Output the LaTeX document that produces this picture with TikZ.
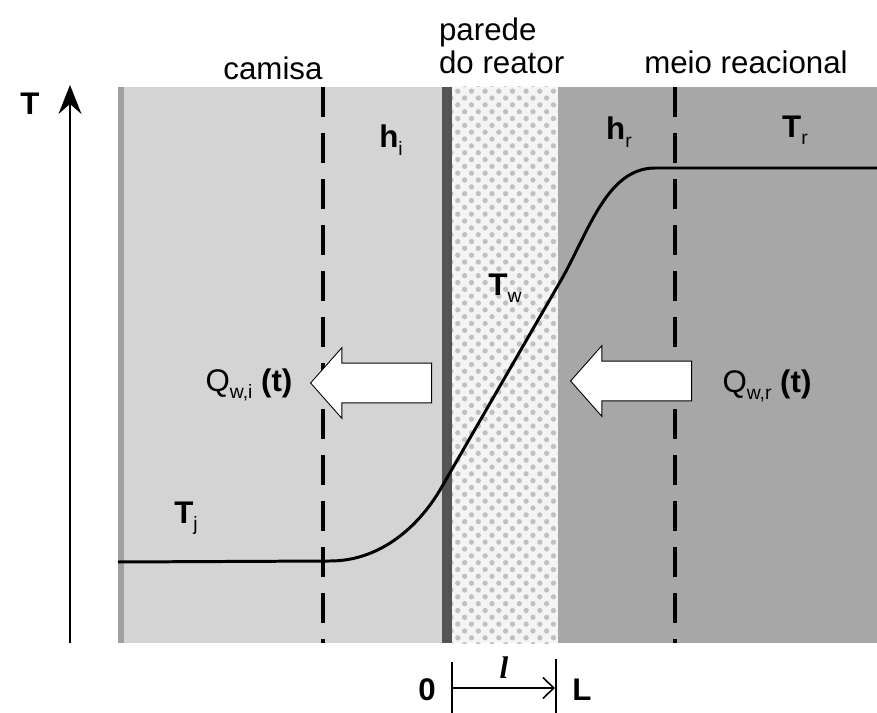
\documentclass[tikz,border=0pt]{standalone}
\usepackage{fontspec}
\setmainfont{Liberation Sans}
\newfontfamily\serifit{Liberation Serif}
\usepackage{tikz}
\usetikzlibrary{arrows.meta,shapes.arrows,patterns.meta}
\definecolor{jacketgray}{HTML}{D4D4D4}
\definecolor{jacketedge}{HTML}{A0A0A0}
\definecolor{walledge}{HTML}{545454}
\definecolor{wallbase}{HTML}{F4F4F4}
\definecolor{walldots}{HTML}{C0C0C0}
\definecolor{reactorgray}{HTML}{A7A7A7}
\newcommand{\idx}[1]{\raisebox{-0.45ex}{\fontsize{11}{12}\selectfont\mdseries #1}}

\begin{document}
\begin{tikzpicture}[
        x=0.02cm,y=-0.02cm,
        >=Stealth,
        lbl/.style={font=\fontsize{17.8}{18.5}\selectfont,inner sep=1pt},
        sym/.style={font=\fontsize{17.8}{18.5}\selectfont\bfseries,inner sep=1pt},
        heatflow/.style={single arrow,draw=black,fill=white,line width=0.5pt,
                         shape border rotate=180,inner xsep=0pt,inner ysep=0.39cm,
                         minimum height=2.42cm,
                         single arrow head extend=0.31cm,single arrow tip angle=97},
        border/.style={line width=1.8pt,dash pattern=on 0.6cm off 0.32cm},
        every node/.style={align=center}
      ]
        \useasboundingbox (0,0) rectangle (877,713);
        % regions
        \fill[jacketgray] (118,87) rectangle (442,643);
        \fill[jacketedge] (118,87) rectangle (124,643);
        \fill[wallbase] (452,87) rectangle (558,643);
        \fill[pattern={Dots[distance=5.5pt,radius=1.5pt,angle=45]},pattern color=walldots]
            (452,87) rectangle (558,643);
        \fill[walledge] (442,87) rectangle (452,643);
        \fill[reactorgray] (558,87) rectangle (877,643);

        \draw[border] (323,87) -- (323,643);
        \draw[border] (675,87) -- (675,643);

        % temperature profile
        \draw[line width=1.7pt] (118,562) -- (330,561)
            .. controls (380,561) and (418,527) .. (440,490)
            -- (560,282)
            .. controls (588,234) and (606,168) .. (655,168)
            -- (877,168);

        % heat flows
        \node[heatflow,anchor=tail] (qwi) at (432,383) {};
        \node[heatflow,anchor=tail] (qwr) at (692,381) {};

        % axis
        \coordinate (tbot) at (70,643);
        \coordinate (ttop) at (70,85);
        \draw[line width=0.9pt,-{Stealth[length=0.58cm,width=0.46cm,inset=0.2cm]}] (tbot) -- (ttop);
        \node[sym] (tlab) at (30,104) {T};

        % labels
        \node[lbl] (camisa) at (273,68) {camisa};
        \node[lbl,align=left,anchor=west] (parede) at (437,46) {parede\\do reator};
        \node[lbl] (meio) at (746,62) {meio reacional};
        \node[sym] (hi) at (391,140) {h\idx{i}};
        \node[sym] (hr) at (619,132) {h\idx{r}};
        \node[sym] (tr) at (795,130) {T\idx{r}};
        \node[sym] (tw) at (505,288) {T\idx{w}};
        \node[sym] (tj) at (186,518) {T\idx{j}};
        \node[lbl] (qi) at (249,385) {Q\idx{w,i} \textbf{(t)}};
        \node[lbl] (qr) at (767,386) {Q\idx{w,r} \textbf{(t)}};

        % wall thickness
        \draw[line width=1pt] (452,662) -- (452,713);
        \draw[line width=1pt] (556,659) -- (556,713);
        \coordinate (lzero) at (452,688);
        \coordinate (lend) at (555,688);
        \draw[line width=0.9pt,-{Straight Barb[length=0.22cm,width=0.42cm]}] (lzero) -- (lend);
        \node[sym] (zero) at (427,690) {0};
        \node[sym] (bigl) at (582,690) {L};
        \node[font=\fontsize{17.8}{18.5}\selectfont\serifit\bfseries\itshape] (smalll) at (504,668) {l};
\end{tikzpicture}
\end{document}
